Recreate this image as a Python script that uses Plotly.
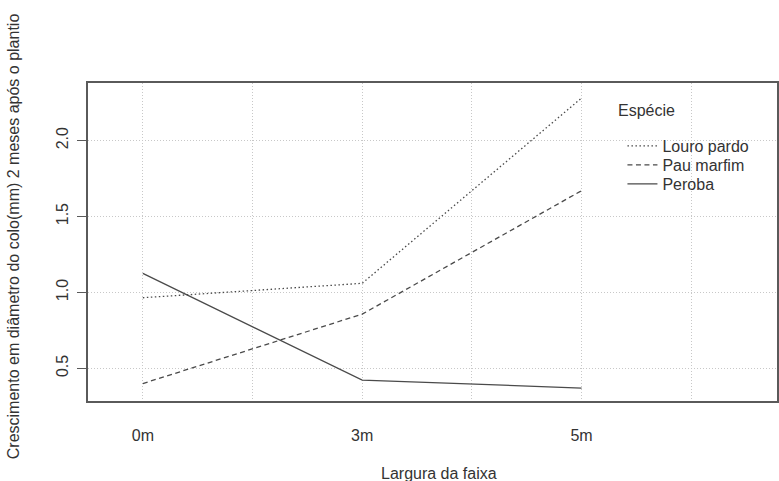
import plotly.graph_objects as go

# ---- data ----
larguras = ["0m", "3m", "5m"]
especies = ["Louro pardo", "Pau marfim", "Peroba"]
louro_pardo = [0.965, 1.06, 2.28]
pau_marfim = [0.40, 0.857, 1.67]
peroba = [1.125, 0.423, 0.37]
y_ticks = [0.5, 1.0, 1.5, 2.0]
y_ticktext = ["0.5", "1.0", "1.5", "2.0"]

series = [louro_pardo, pau_marfim, peroba]
dashes = ["1.5px,2.5px", "5px,3.5px", "solid"]
legend_ids = ["legend", "legend2", "legend3"]

x_pos = [1, 2, 3]

FONT = "Liberation Sans, Arial, sans-serif"
TXT = "#333333"
LINE = "#4a4a4a"
GRID = "#c8c8c8"

W, H = 779, 481
L, R, T, B = 88, 0, 83, 80
PW, PH = W - L - R, H - T - B

fig = go.Figure()
for name, vals, dash, lg in zip(especies, series, dashes, legend_ids):
    fig.add_trace(go.Scatter(
        x=x_pos, y=vals, mode="lines", name=name, legend=lg,
        line=dict(color=LINE, width=1.3, dash=dash),
    ))

def legend_box(top_px):
    return dict(
        x=(624 - L) / PW, xanchor="left",
        y=1 - (top_px - T) / PH, yanchor="top",
        bgcolor="rgba(0,0,0,0)", borderwidth=0,
        font=dict(family=FONT, size=16, color=TXT),
    )

fig.update_layout(
    width=W, height=H,
    margin=dict(l=L, r=R, t=T, b=B),
    paper_bgcolor="white", plot_bgcolor="white",
    font=dict(family=FONT, size=16, color=TXT),
    showlegend=True,
    legend=legend_box(129),
    legend2=legend_box(148),
    legend3=legend_box(167),
    xaxis=dict(
        range=[0.75, 0.75 + PW / 220.0],
        tickmode="array", tickvals=x_pos, ticktext=larguras,
        ticks="", ticklabelstandoff=19,
        showgrid=True, gridcolor=GRID, griddash="1px,2px", gridwidth=1,
        minor=dict(tickmode="array", tickvals=[1.5, 2.5, 3.5], showgrid=True,
                   gridcolor=GRID, griddash="1px,2px", gridwidth=1, ticks=""),
        zeroline=False,
        showline=True, mirror=True, linecolor="#5a5a5a", linewidth=1.5,
        tickfont=dict(size=16, color=TXT),
    ),
    yaxis=dict(
        range=[0.285, 2.379],
        tickmode="array", tickvals=y_ticks, ticktext=y_ticktext,
        tickangle=-90, ticklabelstandoff=3,
        ticks="outside", ticklen=9, tickcolor="#5a5a5a", tickwidth=1,
        showgrid=True, gridcolor=GRID, griddash="1px,2px", gridwidth=1,
        zeroline=False,
        showline=True, mirror=True, linecolor="#5a5a5a", linewidth=1.5,
        tickfont=dict(size=16, color=TXT),
    ),
)

# axis titles placed like base R graphics
fig.add_annotation(
    text="Largura da faixa", xref="paper", yref="paper",
    x=(440 - L) / PW, y=-(473 - (H - B)) / PH,
    xanchor="center", yanchor="middle", showarrow=False,
    font=dict(family=FONT, size=16, color=TXT),
)
fig.add_annotation(
    text="Crescimento em diâmetro do colo(mm) 2 meses após o plantio",
    xref="paper", yref="paper",
    x=(13 - L) / PW, y=(H - B - 236) / PH,
    xanchor="center", yanchor="middle", textangle=-90, showarrow=False,
    font=dict(family=FONT, size=16, color=TXT),
)
# legend title (as in R's legend(title=...))
fig.add_annotation(
    text="Espécie", xref="paper", yref="paper",
    x=(618 - L) / PW, y=1 - (110 - T) / PH,
    xanchor="left", yanchor="middle", showarrow=False,
    font=dict(family=FONT, size=16, color=TXT),
)

fig.write_html("out.html")
